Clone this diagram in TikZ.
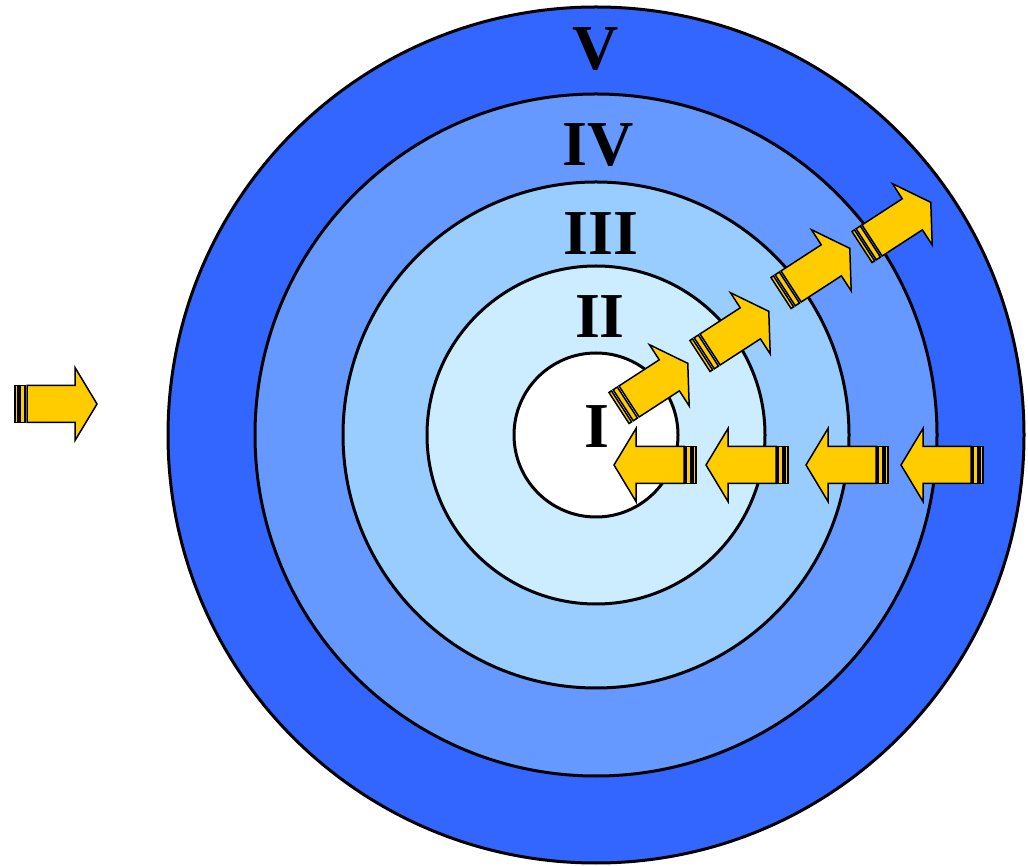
\documentclass[tikz,border=0pt]{standalone}
\usepackage{fontspec}
\setmainfont{Liberation Serif}
\usepackage{xcolor}
\usetikzlibrary{calc}
\definecolor{ringV}{HTML}{3366FF}
\definecolor{ringIV}{HTML}{6699FF}
\definecolor{ringIII}{HTML}{99CCFF}
\definecolor{ringII}{HTML}{CCECFF}
\definecolor{arrowGold}{HTML}{FFCC00}
\tikzset{
  ring/.style={circle, draw=black, line width=3pt, fill=#1, inner sep=0pt},
  ringlabel/.style={font=\fontsize{64}{70}\selectfont\bfseries, inner sep=0pt},
  arrowpart/.style={fill=arrowGold, draw=black, line width=1.5pt, line join=miter},
  % --- striped block arrow, tail at the origin, pointing along +x ---
  stripearrow/.pic={
    \filldraw[arrowpart] (0,-18.5) rectangle (3,18.5);
    \filldraw[arrowpart] (5,-18.5) rectangle (10,18.5);
    \filldraw[arrowpart] (12,-18.5) -- (60,-18.5) -- (60,-36.5) -- (82,0)
      -- (60,36.5) -- (60,18.5) -- (12,18.5) -- cycle;
  },
}

\begin{document}
\begin{tikzpicture}[x=1pt,y=1pt]
  \useasboundingbox (0,0) rectangle (1028,865);

  \node[ring=ringV,   minimum size=856pt] (ringv)   at (596,430) {};
  \node[ring=ringIV,  minimum size=682pt] (ringiv)  at (596,430) {};
  \node[ring=ringIII, minimum size=506pt] (ringiii) at (596,430) {};
  \node[ring=ringII,  minimum size=338pt] (ringii)  at (596,430) {};
  \node[ring=white,   minimum size=164pt] (ringi)   at (596,430) {};

  \node[ringlabel] (labv)   at (596,815.5) {V};
  \node[ringlabel] (labiv)  at (598,720)   {IV};
  \node[ringlabel] (labiii) at (601,631)   {III};
  \node[ringlabel] (labii)  at (600,548)   {II};
  \node[ringlabel] (labi)   at (597,438)   {I};

  % arrow coming in from the left
  \pic at (15,461) {stripearrow};

  % arrows going inwards
  \foreach \x in {696,788,888,983} { \pic[rotate=180] at (\x,400) {stripearrow}; }

  % arrows going outwards
  \foreach \x/\y in {619/457,700/509,781/572,862/618} { \pic[rotate=33] at (\x,\y) {stripearrow}; }
\end{tikzpicture}
\end{document}
